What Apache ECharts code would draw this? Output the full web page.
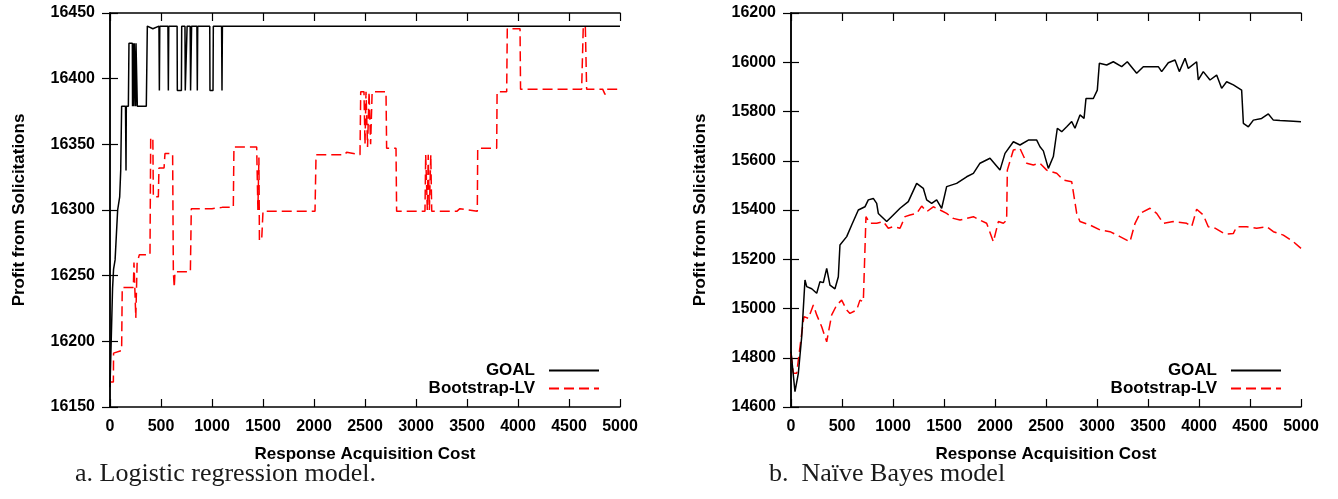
<!DOCTYPE html>
<html>
<head>
<meta charset="utf-8">
<script src="https://cdn.jsdelivr.net/npm/echarts@6/dist/echarts.min.js"></script>
<style>
html,body{margin:0;padding:0;background:#fff;}
#chart{width:1338px;height:499px;}
</style>
</head>
<body>
<div id="chart"></div>
<script>
// ---- Data ----
const xTicks = [0,500,1000,1500,2000,2500,3000,3500,4000,4500,5000];
const seriesNames = ['GOAL','Bootstrap-LV'];
const captions = ['a. Logistic regression model.', 'b.  Na\u00efve Bayes model'];
const xName = 'Response Acquisition Cost';
const yName = 'Profit from Solicitations';

// Logistic regression model: GOAL
const lrGoal = [[0,16165],[10,16195],[25,16240],[35,16255],[50,16262],[65,16262],[75,16300],[95,16310],[105,16330],[114,16379],[152,16379],[157,16330],[160,16379],[180,16379],[186,16427],[200,16427],[219,16427],[221,16379],[224,16427],[233,16427],[235,16379],[238,16427],[250,16427],[252,16379],[255,16427],[266,16427],[268,16379],[356,16379],[366,16440],[420,16438],[480,16440],[484,16391],[488,16440],[568,16440],[572,16391],[576,16440],[658,16440],[660,16391],[700,16391],[703,16440],[735,16440],[738,16391],[752,16391],[756,16440],[786,16440],[790,16391],[800,16440],[852,16440],[856,16391],[860,16440],[978,16440],[980,16391],[1010,16391],[1013,16440],[1094,16440],[1098,16391],[1102,16440],[5000,16440]];
// Logistic regression model: Bootstrap-LV
const lrBoot = [[0,16169],[33,16169],[35,16191],[114,16193],[120,16241],[229,16241],[235,16260],[250,16260],[253,16218],[262,16218],[266,16260],[280,16260],[288,16266],[392,16266],[399,16355],[420,16355],[425,16310],[474,16310],[480,16332],[530,16332],[539,16343],[614,16343],[621,16253],[630,16241],[637,16253],[788,16253],[797,16301],[1000,16301],[1100,16302],[1209,16302],[1215,16348],[1438,16348],[1450,16300],[1460,16340],[1465,16277],[1487,16277],[1500,16299],[2010,16299],[2020,16342],[2300,16342],[2320,16344],[2451,16342],[2458,16390],[2490,16390],[2500,16350],[2510,16390],[2525,16348],[2540,16390],[2555,16350],[2570,16390],[2706,16390],[2712,16347],[2804,16347],[2810,16299],[3088,16299],[3095,16342],[3111,16300],[3120,16342],[3131,16300],[3145,16342],[3154,16299],[3400,16299],[3430,16301],[3601,16299],[3605,16347],[3791,16347],[3795,16390],[3889,16390],[3895,16438],[4020,16438],[4025,16392],[4624,16392],[4640,16440],[4660,16440],[4673,16392],[4830,16392],[4853,16388],[4870,16392],[5000,16392]];

// Naive Bayes model: GOAL
const nbGoal = [[0,14825],[39,14662],[72,14737],[105,14886],[137,15116],[154,15089],[203,15080],[252,15062],[284,15109],[317,15105],[350,15163],[382,15095],[431,15080],[464,15129],[480,15258],[546,15292],[595,15339],[660,15400],[725,15413],[758,15441],[807,15447],[840,15427],[856,15386],[938,15353],[1003,15380],[1069,15407],[1150,15434],[1167,15441],[1232,15508],[1297,15488],[1330,15441],[1379,15427],[1428,15441],[1477,15407],[1526,15495],[1624,15508],[1722,15535],[1788,15549],[1853,15590],[1951,15610],[2049,15562],[2098,15630],[2180,15677],[2245,15664],[2327,15684],[2409,15684],[2441,15657],[2474,15640],[2523,15569],[2572,15617],[2611,15732],[2654,15718],[2703,15738],[2752,15759],[2784,15732],[2833,15786],[2873,15772],[2892,15853],[2964,15853],[3003,15887],[3023,15996],[3095,15989],[3160,16002],[3242,15982],[3297,16002],[3389,15955],[3454,15982],[3601,15982],[3634,15962],[3699,15998],[3765,16009],[3807,15962],[3863,16016],[3895,15975],[3977,16002],[3993,15928],[4042,15962],[4108,15928],[4173,15948],[4222,15894],[4271,15921],[4337,15908],[4418,15887],[4435,15752],[4484,15738],[4533,15765],[4614,15772],[4680,15790],[4729,15765],[4794,15763],[4925,15760],[5000,15758]];
// Naive Bayes model: Bootstrap-LV
const nbBoot = [[0,14818],[23,14737],[56,14737],[72,14791],[105,14899],[127,14967],[170,14960],[219,15014],[252,14974],[301,14926],[350,14865],[399,14974],[448,15014],[497,15034],[546,14994],[578,14980],[644,14994],[676,15034],[709,15028],[735,15373],[774,15346],[840,15346],[905,15353],[954,15326],[1003,15332],[1069,15326],[1118,15373],[1167,15380],[1232,15386],[1281,15416],[1330,15393],[1395,15413],[1461,15400],[1526,15386],[1591,15366],[1657,15359],[1722,15366],[1788,15373],[1853,15359],[1918,15346],[1984,15271],[2033,15353],[2082,15346],[2114,15359],[2121,15562],[2180,15644],[2245,15650],[2311,15590],[2376,15583],[2441,15590],[2507,15562],[2605,15549],[2670,15522],[2752,15515],[2801,15386],[2833,15353],[2931,15339],[3029,15319],[3127,15312],[3225,15292],[3323,15271],[3373,15346],[3422,15386],[3520,15407],[3585,15386],[3650,15346],[3748,15353],[3879,15346],[3928,15332],[3977,15403],[4042,15380],[4091,15332],[4157,15326],[4255,15302],[4337,15305],[4369,15332],[4467,15332],[4565,15326],[4664,15332],[4729,15312],[4827,15298],[4925,15271],[5000,15244]];

const yRanges = [{min:16150, max:16450, interval:50}, {min:14600, max:16200, interval:200}];

// ---- Chart ----
const FONT = '"Liberation Sans", Arial, Helvetica, sans-serif';
const chart = echarts.init(document.getElementById('chart'), null, {renderer:'canvas'});

const grids = [
  {left:110, top:13, width:510, height:394},
  {left:791, top:13, width:510, height:394}
];
const axisLine = {show:true, lineStyle:{color:'#000', width:1.5}};
const axisTick = {show:true, inside:true, length:8, lineStyle:{color:'#000', width:1.2}};
const labelStyle = {color:'#000', fontFamily:FONT, fontWeight:'bold', fontSize:16, formatter:(v) => String(v)};

const xAxis = [], yAxis = [];
[0,1].forEach(i => {
  xAxis.push({
    gridIndex:i, type:'value', min:xTicks[0], max:xTicks[xTicks.length-1], interval:500,
    position:'bottom', axisLine, axisTick, splitLine:{show:false},
    axisLabel:Object.assign({margin:12}, labelStyle),
    name:xName, nameLocation:'middle', nameGap:39,
    nameTextStyle:{color:'#000', fontFamily:FONT, fontWeight:'bold', fontSize:17}
  });
  xAxis.push({
    gridIndex:i, type:'value', min:xTicks[0], max:xTicks[xTicks.length-1], interval:500,
    position:'top', axisLine, axisTick, splitLine:{show:false}, axisLabel:{show:false}
  });
  yAxis.push({
    gridIndex:i, type:'value', min:yRanges[i].min, max:yRanges[i].max, interval:yRanges[i].interval,
    position:'left', axisLine, axisTick, splitLine:{show:false},
    axisLabel:Object.assign({margin:15}, labelStyle),
    name:yName, nameLocation:'middle', nameGap:82,
    nameTextStyle:{color:'#000', fontFamily:FONT, fontWeight:'bold', fontSize:17}
  });
  yAxis.push({
    gridIndex:i, type:'value', min:yRanges[i].min, max:yRanges[i].max, interval:yRanges[i].interval,
    position:'right', axisLine, axisTick, splitLine:{show:false}, axisLabel:{show:false}
  });
});

const data = [[lrGoal, lrBoot],[nbGoal, nbBoot]];
const series = [];
[0,1].forEach(i => {
  series.push({
    name:seriesNames[0], type:'line', xAxisIndex:2*i, yAxisIndex:2*i, data:data[i][0],
    symbol:'none', showSymbol:false, animation:false, z:3,
    lineStyle:{color:'#000', width:1.5, type:'solid'}, itemStyle:{color:'#000'}
  });
  series.push({
    name:seriesNames[1], type:'line', xAxisIndex:2*i, yAxisIndex:2*i, data:data[i][1],
    symbol:'none', showSymbol:false, animation:false, z:2,
    lineStyle:{color:'#ff0000', width:1.5, type:[10,5]}, itemStyle:{color:'#ff0000'}
  });
});

const legendRights = [738, 56];
const legend = [];
[0,1].forEach(i => {
  seriesNames.forEach((nm, k) => {
    legend.push({
      data:[nm], orient:'vertical', align:'right', right:legendRights[i], top:k===0?362:380,
      itemWidth:50, itemHeight:12, itemGap:0, padding:0, selectedMode:false,
      itemStyle:{opacity:0, borderWidth:0},
      textStyle:{color:'#000', fontFamily:FONT, fontWeight:'bold', fontSize:17, padding:[0,9,0,0]}
    });
  });
});

chart.setOption({
  animation:false,
  backgroundColor:'#fff',
  grid:grids,
  xAxis, yAxis, series, legend,
  graphic:[
    {type:'text', left:75, top:461, style:{text:captions[0], font:'26px "Liberation Serif", "Times New Roman", serif', fill:'#1a1a1a'}},
    {type:'text', left:769, top:461, style:{text:captions[1], font:'26px "Liberation Serif", "Times New Roman", serif', fill:'#1a1a1a'}}
  ]
});
</script>
</body>
</html>
